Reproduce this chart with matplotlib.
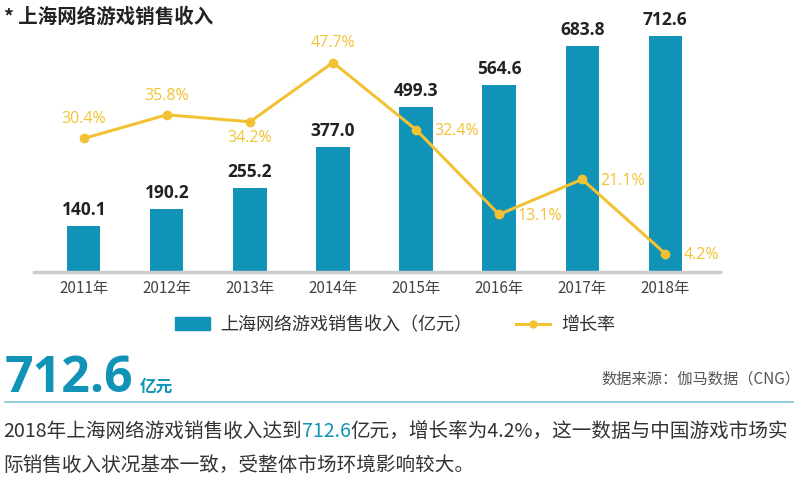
import numpy as np
import matplotlib
matplotlib.use('Agg')
from matplotlib import pyplot as plt
from matplotlib.lines import Line2D
from matplotlib.patches import Patch

plt.rcParams['font.family'] = ['Noto Sans CJK SC', 'DejaVu Sans']

years = ['2011年', '2012年', '2013年', '2014年', '2015年', '2016年', '2017年', '2018年']
revenue = [140.1, 190.2, 255.2, 377.0, 499.3, 564.6, 683.8, 712.6]
growth = [30.4, 35.8, 34.2, 47.7, 32.4, 13.1, 21.1, 4.2]
# where each growth label sits relative to its point
growth_pos = ['above', 'above', 'below', 'above', 'right', 'right', 'right', 'right']

teal = '#1193b8'
yellow = '#f2c234'

fig = plt.figure(figsize=(8.1, 5.0), dpi=100)
ax = fig.add_axes([34 / 810, 1 - 272 / 500, 686 / 810, 242 / 500])
x = np.arange(len(years))

ax.bar(x, revenue, width=0.4, color=teal, zorder=2)
for xi, v in zip(x, revenue):
    ax.annotate(f'{v:.1f}', (xi, v), xytext=(0, 5), textcoords='offset points',
                ha='center', va='bottom', fontsize=12.5, fontweight='bold',
                color='#222222', family=['Open Sans', 'DejaVu Sans'])

ax.set_xlim(-0.6, 7.66)
ax.set_ylim(0, 731)
ax.set_yticks([])
ax.set_xticks(x)
ax.set_xticklabels(years, fontsize=11, color='#444444')
ax.tick_params(axis='x', length=0, pad=6)
for s in ['left', 'right', 'top']:
    ax.spines[s].set_visible(False)
ax.spines['bottom'].set_color('#cccccc')
ax.spines['bottom'].set_linewidth(2.5)

ax2 = ax.twinx()
ax2.plot(x, growth, color=yellow, lw=2.2, marker='o', ms=6, zorder=3)
ax2.set_ylim(0, 55.1)
ax2.set_yticks([])
for s in ['left', 'right', 'top', 'bottom']:
    ax2.spines[s].set_visible(False)
for xi, g, p in zip(x, growth, growth_pos):
    if p == 'above':
        off, ha, va = (0, 8), 'center', 'bottom'
    elif p == 'below':
        off, ha, va = (0, -6), 'center', 'top'
    else:
        off, ha, va = (13, -1), 'left', 'center'
    ax2.annotate(f'{g}%', (xi, g), xytext=off, textcoords='offset points',
                 ha=ha, va=va, fontsize=11.5, color=yellow,
                 family=['Open Sans', 'DejaVu Sans'])

handles = [Patch(color=teal), Line2D([], [], color=yellow, lw=2.2, marker='o', ms=5)]
fig.legend(handles, ['上海网络游戏销售收入（亿元）', '增长率'], loc='center',
           bbox_to_anchor=(395 / 810, 1 - 325 / 500), ncol=2, frameon=False,
           fontsize=13, handlelength=1.9, handleheight=0.75, handletextpad=0.6,
           columnspacing=2.4, labelcolor='#333333')

fig.text(4 / 810, 1 - 17 / 500, '* 上海网络游戏销售收入', fontsize=14,
         fontweight='bold', color='#222222', va='center')

fig.text(5 / 810, 1 - 392 / 500, '712.6', fontsize=36, fontweight='bold',
         color=teal, va='baseline', family=['Open Sans', 'DejaVu Sans'])
fig.text(140 / 810, 1 - 392 / 500, '亿元', fontsize=12, fontweight='bold',
         color=teal, va='baseline')
fig.text(800 / 810, 1 - 384 / 500, '数据来源：伽马数据（CNG）', fontsize=11,
         color='#555555', ha='right', va='baseline')

fig.add_artist(Line2D([5 / 810, 793 / 810], [1 - 402 / 500] * 2, color='#7fc6d9', lw=1.2))

# first paragraph line, with the number in teal
renderer = fig.canvas.get_renderer()
xpos = 3
for piece, col in [('2018年上海网络游戏销售收入达到', '#333333'), ('712.6', teal),
                   ('亿元，增长率为4.2%，这一数据与中国游戏市场实', '#333333')]:
    t = fig.text(xpos / 810, 1 - 437 / 500, piece, fontsize=14.1, color=col, va='baseline')
    xpos += t.get_window_extent(renderer).width
fig.text(3 / 810, 1 - 471 / 500, '际销售收入状况基本一致，受整体市场环境影响较大。',
         fontsize=14.1, color='#333333', va='baseline')

fig.savefig('out.png', dpi=100)
